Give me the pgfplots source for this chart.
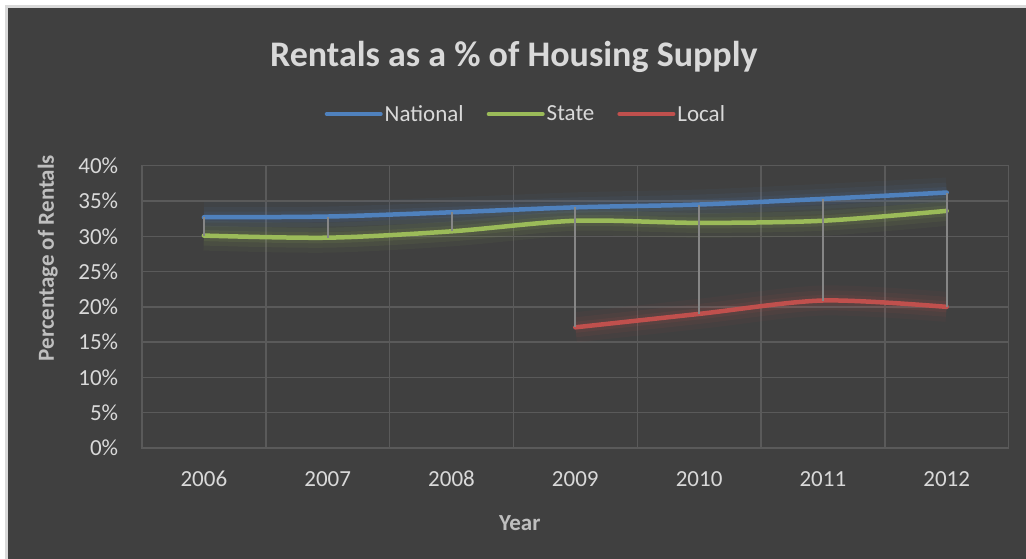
\documentclass[border=0pt]{standalone}
\usepackage{pgfplots}
\usepackage{pgfplotstable}
\pgfplotsset{compat=1.18}
\usepackage{fontspec}
\setmainfont{Carlito}

\definecolor{bg}{HTML}{404040}
\definecolor{edgec}{HTML}{D9D9D9}
\definecolor{gridc}{HTML}{5A5A5A}
\definecolor{natc}{HTML}{4F81BD}
\definecolor{statec}{HTML}{9BBB59}
\definecolor{locc}{HTML}{C0504D}
\definecolor{hilo}{HTML}{868686}
\definecolor{tickc}{HTML}{D9D9D9}
\definecolor{labc}{HTML}{BFBFBF}
\definecolor{titc}{HTML}{D9D9D9}

% year index 0 = 2006
\pgfplotstableread{
x nat state
0 32.7 30.1
1 32.8 29.8
2 33.4 30.7
3 34.1 32.2
4 34.5 31.9
5 35.3 32.2
6 36.2 33.6
}\maintbl

\pgfplotstableread{
x loc
3 17.1
4 19.0
5 20.9
6 20.0
}\loctbl

\newcommand{\lblfont}{\fontsize{23bp}{27bp}\selectfont}

\begin{document}
\begin{tikzpicture}
\fill[white] (0bp,0bp) rectangle (1026bp,-559bp);
\fill[edgec] (5bp,-5bp) rectangle (1026bp,-559bp);
\fill[bg] (7.5bp,-7.5bp) rectangle (1026bp,-559bp);

\begin{axis}[
    at={(142bp,-448bp)}, anchor=south west,
    scale only axis,
    width=866.6bp, height=282.3bp,
    xmin=-0.5, xmax=6.5, ymin=0, ymax=40,
    xtick={0,1,2,3,4,5,6},
    xticklabels={2006,2007,2008,2009,2010,2011,2012},
    ytick={0,5,10,15,20,25,30,35,40},
    yticklabels={0\%,5\%,10\%,15\%,20\%,25\%,30\%,35\%,40\%},
    minor xtick={0.5,1.5,2.5,3.5,4.5,5.5},
    xminorgrids, ymajorgrids,
    major tick length=0pt, minor tick length=0pt,
    axis line style={gridc, line width=1.4bp},
    grid style={gridc, line width=1.4bp},
    minor grid style={gridc, line width=1.4bp},
    tick label style={text=tickc, font=\lblfont},
    xticklabel style={anchor=center, yshift=-31bp},
    yticklabel style={anchor=east, inner sep=0pt, xshift=-23.7bp},
    title={Rentals as a \% of Housing Supply},
    title style={at={(axis description cs:0.429,1.331)}, anchor=base, yshift=0pt,
        text=titc, font=\bfseries\fontsize{36bp}{42bp}\selectfont},
    xlabel={Year},
    xlabel style={at={(axis description cs:0.436,-0.266)}, anchor=center,
        text=labc, font=\bfseries\lblfont},
    ylabel={Percentage of Rentals},
    ylabel style={at={(axis description cs:-0.1088,0.673)}, anchor=center,
        text=labc, font=\bfseries\lblfont},
    legend style={at={(axis description cs:0.443,1.183)}, anchor=center,
        draw=none, fill=none, text=tickc, font=\lblfont,
        nodes={inner sep=2bp},
        /tikz/every even column/.append style={column sep=21bp}},
    legend columns=3,
    legend image code/.code={\draw[#1, line width=4bp, line cap=round, opacity=1] (0bp,0bp) -- (54bp,0bp);},
]

% soft glow under the lines
\addplot[natc, line width=30bp, opacity=0.05, smooth, forget plot] table[x=x, y=nat] {\maintbl};
\addplot[natc, line width=20bp, opacity=0.07, smooth, forget plot] table[x=x, y=nat] {\maintbl};
\addplot[natc, line width=11bp, opacity=0.10, smooth, forget plot] table[x=x, y=nat] {\maintbl};
\addplot[statec, line width=30bp, opacity=0.05, smooth, forget plot] table[x=x, y=state] {\maintbl};
\addplot[statec, line width=20bp, opacity=0.07, smooth, forget plot] table[x=x, y=state] {\maintbl};
\addplot[statec, line width=11bp, opacity=0.10, smooth, forget plot] table[x=x, y=state] {\maintbl};
\addplot[locc, line width=30bp, opacity=0.05, smooth, forget plot] table[x=x, y=loc] {\loctbl};
\addplot[locc, line width=20bp, opacity=0.07, smooth, forget plot] table[x=x, y=loc] {\loctbl};
\addplot[locc, line width=11bp, opacity=0.10, smooth, forget plot] table[x=x, y=loc] {\loctbl};

\addplot[natc, line width=4.5bp, line cap=round, smooth] table[x=x, y=nat] {\maintbl};
\addlegendentry{National}
\addplot[statec, line width=4.5bp, line cap=round, smooth] table[x=x, y=state] {\maintbl};
\addlegendentry{State}
\addplot[locc, line width=4.5bp, line cap=round, smooth] table[x=x, y=loc] {\loctbl};
\addlegendentry{Local}

% high-low lines
\addplot[hilo, line width=2bp, unbounded coords=jump, forget plot] coordinates {
    (0,30.1) (0,32.7) (0,nan)
    (1,29.8) (1,32.8) (1,nan)
    (2,30.7) (2,33.4) (2,nan)
    (3,17.1) (3,34.1) (3,nan)
    (4,19.0) (4,34.5) (4,nan)
    (5,20.9) (5,35.3) (5,nan)
    (6,20.0) (6,36.2)
};
\end{axis}
\pgfresetboundingbox
\useasboundingbox (0bp,0bp) rectangle (1026bp,-559bp);
\end{tikzpicture}
\end{document}
